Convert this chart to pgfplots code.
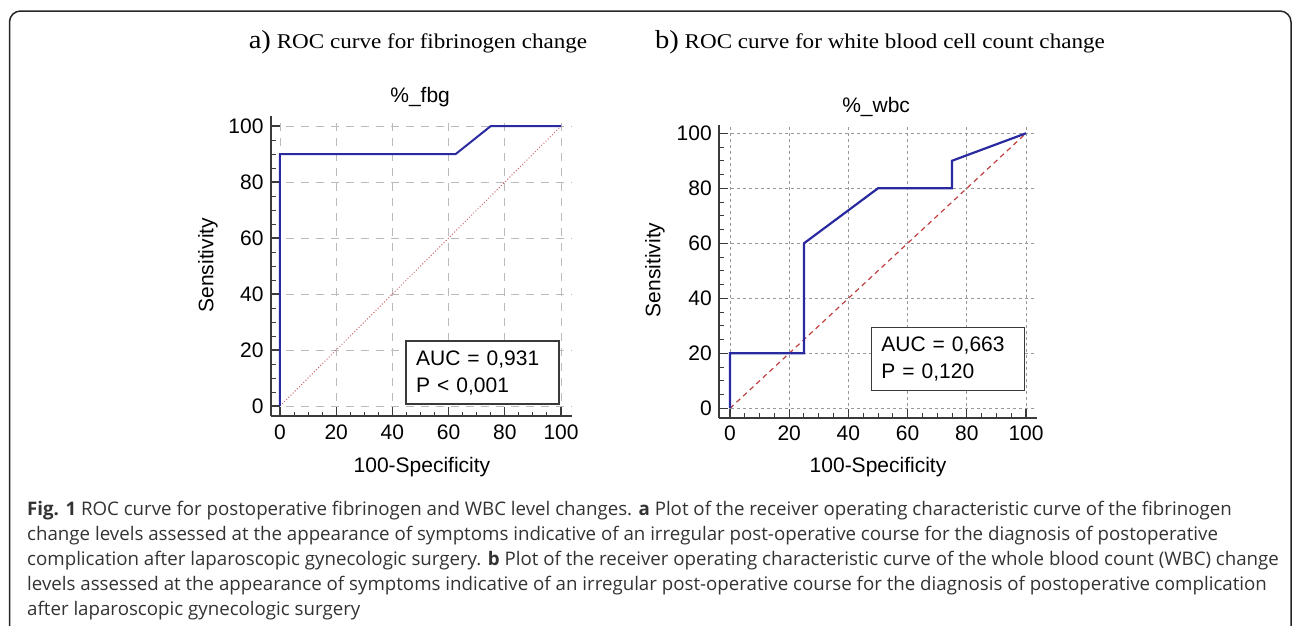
\documentclass[border=0pt]{standalone}
\usepackage{fontspec}
\setmainfont{Liberation Sans}
\newfontfamily\titlefont[FakeStretch=1.1]{Liberation Serif}
\newfontfamily\capfont{Open Sans}
\usepackage{pgfplots}
\pgfplotsset{compat=1.18}

\definecolor{rocblue}{HTML}{2A2AA0}
\definecolor{diagred}{HTML}{C04040}
\definecolor{axisgray}{HTML}{3A3A3A}
\definecolor{gridA}{HTML}{BBBBBB}
\definecolor{gridB}{HTML}{999999}
\definecolor{capgray}{HTML}{333333}

\pgfplotsset{
  rocstyle/.style={
    scale only axis,
    axis lines*=left,
    axis line style={line width=2pt, color=axisgray},
    xtick={0,20,...,100}, ytick={0,20,...,100},
    minor tick num=3,
    tick align=inside,
    major tick length=9pt, minor tick length=4.5pt,
    every tick/.style={line width=1.3pt, color=axisgray},
    every minor tick/.style={line width=1pt, color=axisgray},
    tick label style={font=\fontsize{21}{25}\selectfont},
    xticklabel style={yshift=-5pt},
    yticklabel style={xshift=-4pt},
    /pgf/number format/assume math mode=true,
    grid=major,
    title style={font=\fontsize{21}{25}\selectfont, anchor=center},
    xlabel style={font=\fontsize{21}{25}\selectfont, anchor=center},
    ylabel style={font=\fontsize{21}{25}\selectfont, anchor=center},
    xlabel={100-Specificity},
    ylabel={Sensitivity},
  },
}
\tikzset{
  aucbox/.style={draw=axisgray, line width=1.5pt, fill=white, anchor=south east,
    inner xsep=10pt, inner ysep=0pt, text width=133pt, minimum height=63pt,
    align=left, font=\fontsize{21}{27}\selectfont},
}

\begin{document}
\begin{tikzpicture}

% frame
\draw[line width=1.5pt, rounded corners=11pt, color=black!85]
  (9.5pt,-660pt) -- (9.5pt,-11pt) -- (1291pt,-11pt) -- (1291pt,-660pt);

% panel titles
\node[font=\titlefont\fontsize{21}{25}\selectfont] at (418pt,-42pt)
  {{\fontsize{26}{26}\selectfont a)} ROC curve for fibrinogen change};
\node[font=\titlefont\fontsize{21}{25}\selectfont] at (880pt,-42pt)
  {{\fontsize{26}{26}\selectfont b)} ROC curve for white blood cell count change};

% a) fibrinogen
\begin{axis}[rocstyle,
    at={(271pt,-416pt)}, anchor=south west,
    width=300.7pt, height=300pt,
    xmin=-3.2, xmax=103.8, ymin=-3.57, ymax=103.6,
    grid style={dash pattern=on 8pt off 7pt, line width=0.8pt, color=gridA},
    title={\%\_fbg},
    title style={at={(axis description cs:0.496,1.043)}},
    xlabel style={at={(axis description cs:0.502,-0.17)}},
    ylabel style={at={(axis description cs:-0.21,0.503)}},
  ]
  \addplot[diagred!80, line width=1pt, dotted] coordinates {(0,0) (100,100)};
  \addplot[rocblue, line width=2pt] coordinates {
    (0,0) (0,90) (62.5,90) (75,100) (100,100)};
  \node[aucbox] at (axis cs:99.6,0.4) {AUC = 0,931\\P < 0,001};
\end{axis}

% b) white blood cell count
\begin{axis}[rocstyle,
    at={(719.3pt,-417.7pt)}, anchor=south west,
    width=317.4pt, height=292.7pt,
    xmin=-3.6, xmax=103.6, ymin=-3.4, ymax=103,
    grid style={dash pattern=on 3pt off 3pt, line width=0.9pt, color=gridB},
    title={\%\_wbc},
    title style={at={(axis description cs:0.494,1.041)}},
    xlabel style={at={(axis description cs:0.5,-0.168)}},
    ylabel style={at={(axis description cs:-0.203,0.505)}},
  ]
  \addplot[diagred, line width=1.2pt, dash pattern=on 5pt off 4pt] coordinates {(0,0) (100,100)};
  \addplot[rocblue, line width=2.2pt] coordinates {
    (0,0) (0,20) (25,20) (25,60) (50,80) (75,80) (75,90) (100,100)};
  \node[aucbox] at (axis cs:99.7,6.3) {AUC = 0,663\\P = 0,120};
\end{axis}

% caption
\begin{scope}[every node/.style={anchor=base west, inner sep=0pt,
    font=\capfont\fontsize{18.7}{25}\selectfont, text=capgray}]
  \node at (27pt,-515pt) {\textbf{Fig. 1} ROC curve for postoperative fibrinogen and WBC level changes. \textbf{a} Plot of the receiver operating characteristic curve of the fibrinogen};
  \node at (27pt,-540.2pt) {change levels assessed at the appearance of symptoms indicative of an irregular post-operative course for the diagnosis of postoperative};
  \node at (27pt,-565.4pt) {complication after laparoscopic gynecologic surgery. \textbf{b} Plot of the receiver operating characteristic curve of the whole blood count (WBC) change};
  \node at (27pt,-590.6pt) {levels assessed at the appearance of symptoms indicative of an irregular post-operative course for the diagnosis of postoperative complication};
  \node at (27pt,-615.8pt) {after laparoscopic gynecologic surgery};
\end{scope}

\pgfresetboundingbox
\useasboundingbox (0pt,0pt) rectangle (1293pt,-625pt);
\end{tikzpicture}
\end{document}
